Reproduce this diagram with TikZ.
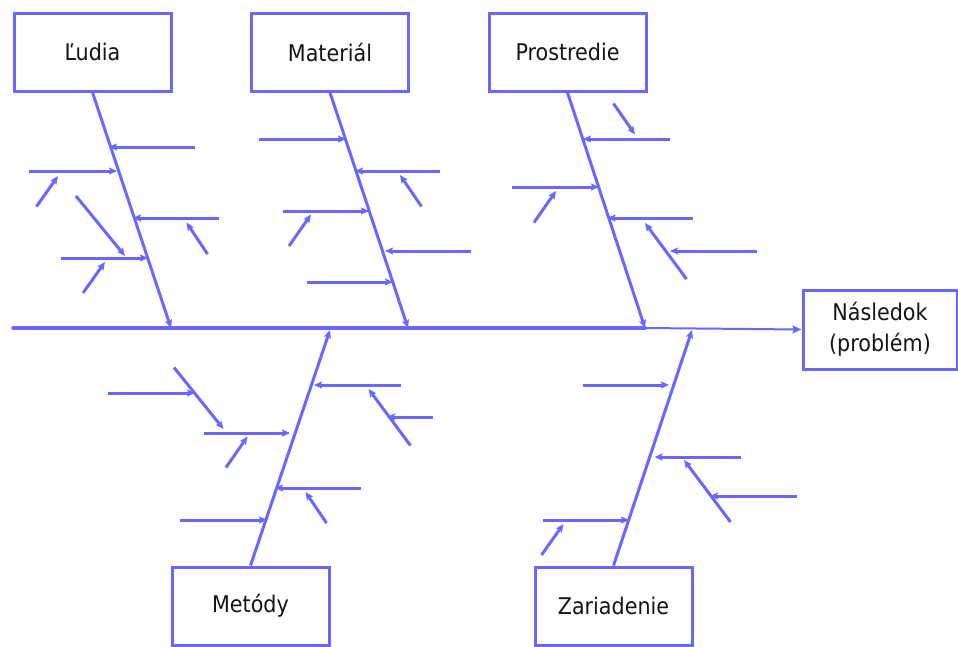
\documentclass[tikz,border=0pt]{standalone}
\usepackage{fontspec}
\setmainfont{DejaVu Sans Condensed}
\usetikzlibrary{arrows.meta}
\definecolor{bone}{RGB}{104,104,255}
\definecolor{ink}{RGB}{20,20,20}
\tikzset{
  catbox/.style={draw=bone, line width=3pt, fill=white, minimum width=157pt,
    minimum height=78pt, inner sep=0pt, text=ink, font=\fontsize{23}{31}\selectfont,
    align=center},
  mainbone/.style={draw=bone, line width=3.2pt, line cap=round},
  headline/.style={draw=bone, line width=2pt, -{Stealth[length=9pt,width=8pt,inset=1.5pt]}},
  sub/.style={draw=bone, line width=3pt,
    -{Stealth[length=8pt,width=7pt,inset=1.5pt]}},
}
% a cause arrow between two named coordinates
\newcommand\causearrow[3]{%
  \coordinate (#1s) at (#2);
  \coordinate (#1e) at (#3);
  \draw[sub] (#1s) -- (#1e);}
\begin{document}
\begin{tikzpicture}[x=1pt,y=-1pt]
\useasboundingbox[fill=white] (0,0) rectangle (958,646);

% category boxes
\node[catbox] (ludia) at (92.5,52) {Ľudia};
\node[catbox] (material) at (330,52) {Materiál};
\node[catbox] (prostredie) at (567.5,52) {Prostredie};
\node[catbox] (metody) at (250.5,606) {Metódy};
\node[catbox] (zariadenie) at (613.5,606) {Zariadenie};
\node[catbox, minimum width=154pt, minimum height=79pt] (result) at (880,329.5)
  {Následok\\(problém)};

% spine
\coordinate (tail) at (13,328);
\coordinate (joint) at (645,328);
\draw[mainbone] (tail) -- (joint);
\draw[headline] (joint) -- (result.west);

% main bones
\coordinate (ludiaE) at (171,328);
\coordinate (materialE) at (408,328);
\coordinate (prostredieE) at (645,328);
\coordinate (metodyE) at (330,330);
\coordinate (zariadenieE) at (692,330);
\draw[sub] (ludia.south) -- (ludiaE);
\draw[sub] (material.south) -- (materialE);
\draw[sub] (prostredie.south) -- (prostredieE);
\draw[sub] (metody.north) -- (metodyE);
\draw[sub] (zariadenie.north) -- (zariadenieE);

% causes: Ľudia
\causearrow{la}{195,147}{109,147}
\causearrow{lb}{29,171}{117,171}
\causearrow{lc}{36.5,206.5}{58,176}
\causearrow{ld}{76,196}{125,256}
\causearrow{le}{219,218}{133,218}
\causearrow{lf}{207.5,254}{186.5,222.5}
\causearrow{lg}{61,258}{148,258}
\causearrow{lh}{83,293}{105,262}

% causes: Materiál
\causearrow{ma}{259,139}{346,139}
\causearrow{mb}{440,171}{355,171}
\causearrow{mc}{421.5,206.5}{400,175}
\causearrow{md}{282.5,211}{369,211}
\causearrow{me}{289,246}{311,214.5}
\causearrow{mf}{471,251}{385,251}
\causearrow{mg}{306.5,282}{393,282}

% causes: Prostredie
\causearrow{pa}{613.5,103.5}{635,134.5}
\causearrow{pb}{670,139}{583,139}
\causearrow{pc}{511.5,187}{599,187}
\causearrow{pd}{534,222.5}{556,191}
\causearrow{pe}{693,218}{607.5,218}
\causearrow{pf}{686.5,279}{645,223}
\causearrow{pg}{757,251}{670,251}

% causes: Metódy
\causearrow{ta}{108,393}{195,393}
\causearrow{tb}{174,367.5}{223.5,429}
\causearrow{tc}{401,385}{314,385}
\causearrow{td}{410.5,445.5}{368.5,389}
\causearrow{te}{432.5,417}{387,417}
\causearrow{tf}{204,433}{290,433}
\causearrow{tg}{226,467.5}{247.5,436.5}
\causearrow{th}{361,488}{275,488}
\causearrow{ti}{326.5,523}{305.5,492}
\causearrow{tj}{180,520}{267,520}

% causes: Zariadenie
\causearrow{za}{582.5,385}{669,385}
\causearrow{zb}{741,457}{654.5,457}
\causearrow{zc}{730.5,522}{684,460}
\causearrow{zd}{796.5,496}{710,496}
\causearrow{ze}{543,520}{629,520}
\causearrow{zf}{541.5,555}{563.5,524}
\end{tikzpicture}
\end{document}
